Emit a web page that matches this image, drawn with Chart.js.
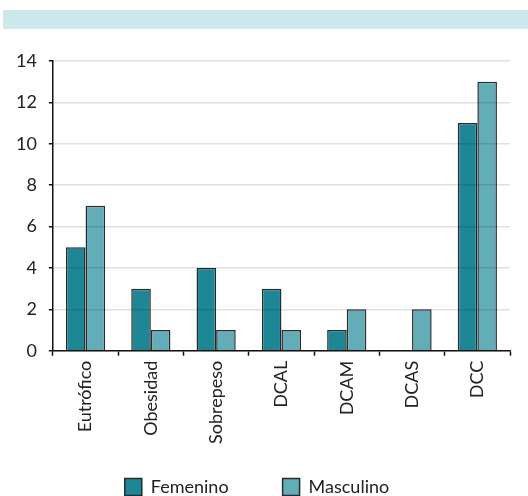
<!DOCTYPE html>
<html lang="es">
<head>
<meta charset="UTF-8">
<title>Chart</title>
<style>
  html, body { margin: 0; padding: 0; background: #fff; }
  #wrap { position: relative; width: 528px; height: 496px; }
  #band { position: absolute; left: 3px; top: 10px; width: 525px; height: 19px; background: #cde8ec; }
  #myChart { position: absolute; left: 0; top: 0; }
</style>
</head>
<body>
<div id="wrap">
  <div id="band"></div>
  <canvas id="myChart" width="528" height="496"></canvas>
</div>
<script src="https://cdn.jsdelivr.net/npm/chart.js@4"></script>
<script>
    // datos
    const categorias = ['Eutrófico', 'Obesidad', 'Sobrepeso', 'DCAL', 'DCAM', 'DCAS', 'DCC'];
    const femenino = [5, 3, 4, 3, 1, 0, 11];
    const masculino = [7, 1, 1, 1, 2, 2, 13];
    const yTicks = [0, 2, 4, 6, 8, 10, 12, 14];

    const fuente = 'Lato, "Open Sans", sans-serif';

    // el padding de la leyenda sirve para separar los items pero tambien deja
    // mucho aire arriba; se quita ese aire sobrante
    const recorte = 27;
    const subida = 25;
    const leyendaCompacta = {
        id: 'leyendaCompacta',
        beforeInit: function (chart) {
            const leg = chart.legend;
            const fitOrig = leg.fit;
            const drawOrig = leg._draw;
            leg.fit = function () {
                fitOrig.call(this);
                this.height -= recorte;
            };
            // se mueve dentro de _draw para que el clip de la caja no corte el texto
            leg._draw = function () {
                const c = this.ctx;
                c.save();
                c.translate(0, -subida);
                drawOrig.apply(this, arguments);
                c.restore();
            };
        }
    };

    var ctx = document.getElementById('myChart').getContext('2d');
    var chart = new Chart(ctx, {
        type: 'bar',
        data: {
            labels: categorias,
            datasets: [{
                label: 'Femenino',
                backgroundColor: '#1e8796',
                borderColor: '#2a2a2a',
                borderWidth: 1.5,
                data: femenino
            }, {
                label: 'Masculino',
                backgroundColor: '#63adb8',
                borderColor: '#2a2a2a',
                borderWidth: 1.5,
                data: masculino
            }]
        },
        options: {
            responsive: false,
            animation: false,
            layout: { padding: { top: 61, left: 4, right: 18, bottom: -8 } },
            datasets: { bar: { categoryPercentage: 0.6, barPercentage: 1.0 } },
            plugins: {
                tooltip: { enabled: false },
                legend: {
                    position: 'bottom',
                    labels: {
                        color: '#222',
                        font: { family: fuente, size: 18 },
                        boxWidth: 17,
                        boxHeight: 17,
                        padding: 54,
                        useBorderRadius: false
                    }
                }
            },
            scales: {
                x: {
                    offset: true,
                    border: { color: '#111', width: 1.5, z: 2 },
                    grid: { drawOnChartArea: false, drawTicks: true, tickLength: 5, tickColor: '#111', tickWidth: 1.5, offset: true },
                    ticks: {
                        color: '#222',
                        font: { family: fuente, size: 18 },
                        maxRotation: 90,
                        minRotation: 90,
                        padding: 5
                    }
                },
                y: {
                    min: 0,
                    max: 14,
                    afterBuildTicks: function (axis) {
                        axis.ticks = yTicks.map(function (v) { return { value: v }; });
                    },
                    border: { color: '#111', width: 1.5, z: 2 },
                    grid: { color: 'rgba(0,0,0,0.12)', lineWidth: 1.5, z: 1, tickLength: 4, tickColor: '#111', tickWidth: 1.5 },
                    ticks: {
                        color: '#222',
                        font: { family: fuente, size: 18 },
                        padding: 12
                    }
                }
            }
        },
        plugins: [leyendaCompacta]
    });
</script>
</body>
</html>
